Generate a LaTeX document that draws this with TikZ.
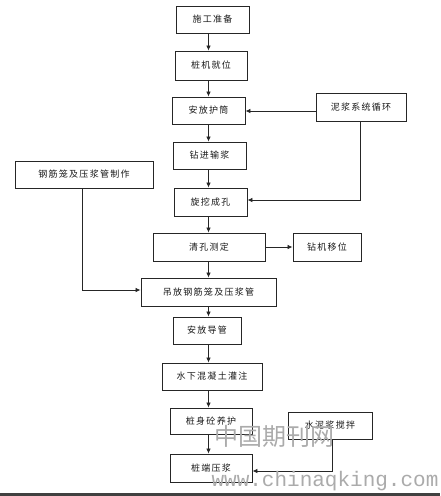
\documentclass[tikz,border=0pt]{standalone}
\usepackage{fontspec}
\newfontfamily\cjk{Noto Sans CJK SC}
\newfontfamily\cjkbox[LetterSpace=14]{Noto Sans CJK SC}
\newfontfamily\wmmono{Liberation Mono}
\usetikzlibrary{arrows.meta}
\tikzset{
  x=1pt, y=-1pt,
  box/.style={draw=black!85, line width=0.9pt, rectangle, inner sep=0pt,
    font=\cjkbox\fontsize{9}{10}\selectfont, text=black!90},
  conn/.style={draw=black!85, line width=0.8pt, -{Latex[length=5pt,width=4.5pt]}},
  wm/.style={text=black!33, inner sep=0pt}
}
\newcommand{\bx}[6]{\node[box, minimum width=#4pt, minimum height=#5pt] (#1) at (#2,#3) {#6};}
\begin{document}
\begin{tikzpicture}
\useasboundingbox (0,0) rectangle (440,496);
\fill[white] (0,0) rectangle (440,496);
\bx{prep}{212.5}{19.5}{73}{27}{施工准备}
\bx{pos}{211}{65.5}{72}{29}{桩机就位}
\bx{hutong}{208.5}{110.5}{73}{27}{安放护筒}
\bx{mud}{361}{107}{90}{28}{泥浆系统循环}
\bx{drill}{209.5}{155.5}{73}{27}{钻进输浆}
\bx{cage}{84}{174.5}{138}{27}{钢筋笼及压浆管制作}
\bx{hole}{210.5}{202}{73}{28}{旋挖成孔}
\bx{clean}{209}{247}{112}{28}{清孔测定}
\bx{move}{327}{247}{68}{28}{钻机移位}
\bx{hoist}{208.5}{292}{135}{28}{吊放钢筋笼及压浆管}
\bx{guide}{207}{330.5}{68}{27}{安放导管}
\bx{pour}{212}{376.5}{100}{27}{水下混凝土灌注}
\bx{cure}{211}{421}{82}{26}{桩身砼养护}
\bx{cement}{330}{425.5}{84}{27}{水泥浆搅拌}
\bx{grout}{211}{468}{82}{28}{桩端压浆}
\coordinate (spine) at (208.5,0);
\foreach \a/\b in {prep/pos,pos/hutong,hutong/drill,drill/hole,hole/clean,clean/hoist,hoist/guide,guide/pour,pour/cure,cure/grout}
  \draw[conn] (\a.south -| spine) -- (\b.north -| spine);
\draw[conn] (mud.west |- 0,111) -- (hutong.east |- 0,111);
\draw[conn] (360,121) |- (hole.east |- 0,200);
\draw[conn] (clean.east) -- (move.west);
\draw[conn] (82,188) |- (hoist.west |- 0,290);
\draw[conn] (332,439) |- (grout.east |- 0,471);
\node[wm, font=\cjk\fontsize{24}{24}\selectfont, anchor=center] (wm1) at (274,436) {中国期刊网};
\node[wm, font=\wmmono\fontsize{21}{21}\selectfont, anchor=center] (wm2) at (325,481) {www.chinaqking.com};
\fill[black!75] (0,493) rectangle (440,496);
\end{tikzpicture}
\end{document}
